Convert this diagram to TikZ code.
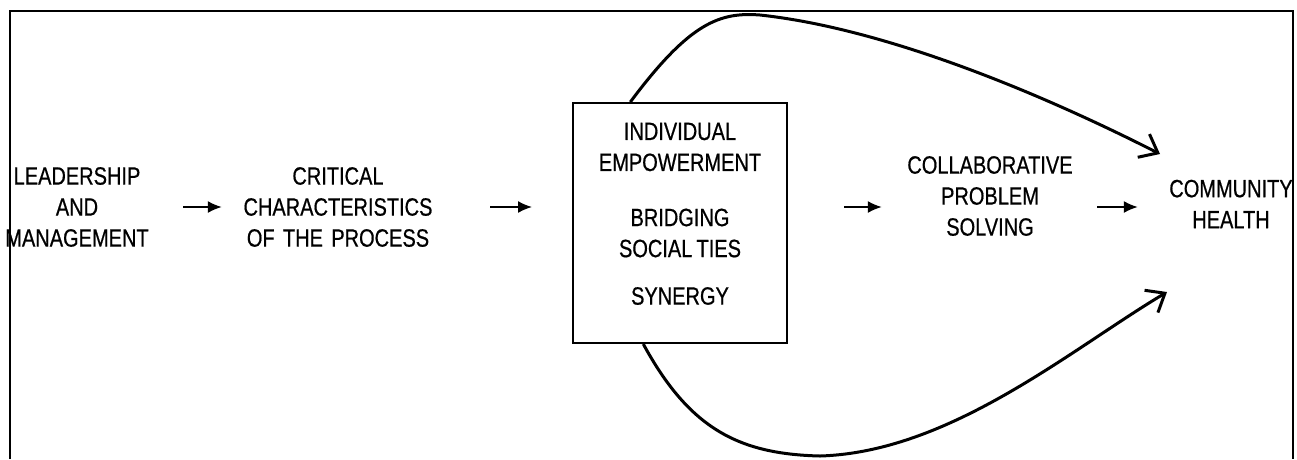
\documentclass[tikz,border=0pt]{standalone}
\usepackage{fontspec}
\setmainfont{Liberation Sans}[FakeStretch=0.8,FakeBold=0.6,WordSpace=0.75]
\usetikzlibrary{arrows.meta,calc}
\begin{document}
\begin{tikzpicture}[x=1pt,y=-1pt,
  label/.style={inner sep=0pt,align=center,font=\fontsize{25}{31}\selectfont},
  flow/.style={line width=1.6pt,-{Latex[length=14pt,width=12pt]}},
  detour/.style={line width=3pt,-{Straight Barb[length=16pt,width=26pt,line width=3pt]}}]
  \useasboundingbox (0,0) rectangle (1297,459);
  % open frame (no bottom edge)
  \draw[line width=2pt] (10,459) -- (10,11) -- (1293,11) -- (1293,459);

  \node[label,text width=150pt] (lead) at (77,207) {LEADERSHIP\\AND\\MANAGEMENT};
  \node[label,text width=200pt] (crit) at (338,207) {CRITICAL\\CHARACTERISTICS\\OF THE PROCESS};
  \node[draw,line width=2pt,minimum width=214pt,minimum height=240pt,inner sep=0pt] (box) at (680,223) {};
  \node[label] (emp) at (680,147) {INDIVIDUAL\\EMPOWERMENT};
  \node[label] (ties) at (680,233) {BRIDGING\\SOCIAL TIES};
  \node[label] (syn) at (680,296) {SYNERGY};
  \node[label,text width=190pt] (collab) at (990,196) {COLLABORATIVE\\PROBLEM\\SOLVING};
  \node[label,text width=124pt] (comm) at (1231,204) {COMMUNITY\\HEALTH};

  \draw[flow,shorten <=31pt,shorten >=16pt] (lead.east) -- (crit.west);
  \draw[flow,shorten <=52pt,shorten >=40pt] (crit.east) -- (box.west |- crit.east);
  \draw[flow,shorten <=56pt,shorten >=13pt] (box.east |- crit.east) -- (collab.west |- crit.east);
  \draw[flow,shorten <=12pt,shorten >=31pt] (collab.east |- crit.east) -- (comm.west |- crit.east);

  % direct paths around the box into community health
  \coordinate (uptip) at (1160,154);
  \coordinate (lowtip) at (1167,292);
  \draw[detour] ($(box.north west)!0.27!(box.north east)$)
     .. controls (690,22) and (720,12) .. (760,15)
     .. controls (880,28) and (1030,88) .. (uptip);
  \draw[detour] ($(box.south west)!0.33!(box.south east)$)
     .. controls (690,430) and (740,454) .. (820,456)
     .. controls (950,452) and (1070,350) .. (lowtip);
\end{tikzpicture}
\end{document}
